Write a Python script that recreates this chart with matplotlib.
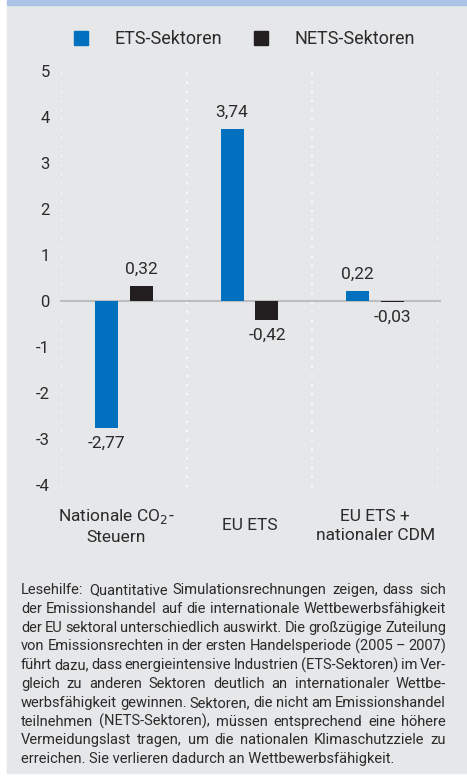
import numpy as np
import matplotlib
matplotlib.use("Agg")
import matplotlib.pyplot as plt
import matplotlib.transforms as mtransforms
from matplotlib.patches import Rectangle

# data
categories = ["Nationale CO$_2$-\nSteuern", "EU ETS", "EU ETS +\nnationaler CDM"]
ets_values = [-2.77, 3.74, 0.22]
nets_values = [0.32, -0.42, -0.03]
series_names = ["ETS-Sektoren", "NETS-Sektoren"]
y_ticks = [5, 4, 3, 2, 1, 0, -1, -2, -3, -4]

caption_lines = [
    "Lesehilfe: Quantitative Simulationsrechnungen zeigen, dass sich",
    "der Emissionshandel auf die internationale Wettbewerbsfähigkeit",
    "der EU sektoral unterschiedlich auswirkt. Die großzügige Zuteilung",
    "von Emissionsrechten in der ersten Handelsperiode (2005 – 2007)",
    "führt dazu, dass energieintensive Industrien (ETS-Sektoren) im Ver-",
    "gleich zu anderen Sektoren deutlich an internationaler Wettbe-",
    "werbsfähigkeit gewinnen. Sektoren, die nicht am Emissionshandel",
    "teilnehmen (NETS-Sektoren), müssen entsprechend eine höhere",
    "Vermeidungslast tragen, um die nationalen Klimaschutzziele zu",
    "erreichen. Sie verlieren dadurch an Wettbewerbsfähigkeit.",
]

BLUE = "#0070bf"
BLACK = "#231f20"
BG = "#e6e7e9"
TXT = "#2b2b2b"

plt.rcParams["font.family"] = ["Roboto", "DejaVu Sans"]

W, H = 467, 780
fig = plt.figure(figsize=(W / 100, H / 100), dpi=100)
fig.patch.set_facecolor("white")

# background panel + top strip
fig.patches.append(Rectangle((7 / W, 1 - 773 / H), 1 - 7 / W, 768 / H, transform=fig.transFigure,
                             color=BG, zorder=-2))
fig.patches.append(Rectangle((7 / W, 1 - 5 / H), 1 - 7 / W, 5 / H, transform=fig.transFigure,
                             color="#abc4e6", zorder=-2))

# axes: x 61..438 px, y 71..485 px (46 px per unit)
ax_l, ax_r = 61, 438
ax_t, ax_b = 71 - 0.05 * 46, 485 + 0.05 * 46
ax = fig.add_axes([ax_l / W, 1 - ax_b / H, (ax_r - ax_l) / W, (ax_b - ax_t) / H])
ax.set_zorder(2)
ax.set_facecolor("none")
ax.set_xlim(-0.5, 2.5)
ax.set_ylim(-4.05, 5.05)

x = np.arange(len(categories))
width = 0.183
offset = 0.139
ax.bar(x - offset, ets_values, width, color=BLUE, zorder=3)
ax.bar(x + offset, nets_values, width, color=BLACK, zorder=3)

for xs, vals in [(x - offset, ets_values), (x + offset, nets_values)]:
    for xi, v in zip(xs, vals):
        dy = 12 if v >= 0 else -11
        ax.annotate(f"{v:.2f}".replace(".", ","), (xi, v), xytext=(0, dy), textcoords="offset points",
                    ha="center", va="center", fontsize=12.5, color=TXT)

# zero line and dotted separators
ax.axhline(0, color="#bcbdbf", lw=1.5, zorder=2, xmax=1.005, clip_on=False)
for xv in [-0.5, 0.5, 1.5, 2.5]:
    ax.axvline(xv, color="white", lw=1.2, ls=(0, (1.2, 4.3)), zorder=1)

for s in ax.spines.values():
    s.set_visible(False)
ax.set_yticks(y_ticks)
ax.set_yticklabels([str(t) for t in y_ticks], fontsize=12, color=TXT)
ax.tick_params(axis="y", length=0, pad=8)
ax.set_xticks([])

# category labels
trans = mtransforms.blended_transform_factory(ax.transData, fig.transFigure)
for xi, lab in zip(x, categories):
    xpos = xi - 0.06 if xi == 0 else xi
    ax.text(xpos, 1 - 526 / H, lab, transform=trans, ha="center", va="center",
            fontsize=12.5, color=TXT, linespacing=1.4)

# legend
fig.patches.append(Rectangle((74 / W, 1 - 45 / H), 14 / W, 14 / H, transform=fig.transFigure,
                             color=BLUE))
fig.text(115 / W, 1 - 39 / H, series_names[0], ha="left", va="center", fontsize=13, color=TXT)
fig.patches.append(Rectangle((254 / W, 1 - 45 / H), 14 / W, 14 / H, transform=fig.transFigure,
                             color=BLACK))
fig.text(295 / W, 1 - 39 / H, series_names[1], ha="left", va="center", fontsize=13, color=TXT)

# caption, justified by hand
fig.canvas.draw()
renderer = fig.canvas.get_renderer()
left_px, right_px = 21, 446
y0, step = 590, 18.8
fs = 10.5
for i, line in enumerate(caption_lines):
    yf = 1 - (y0 + i * step) / H
    if i == len(caption_lines) - 1:
        fig.text(left_px / W, yf, line, ha="left", va="center", fontsize=fs, color=TXT)
        continue
    words = line.split(" ")
    arts = [fig.text(0, yf, w, ha="left", va="center", fontsize=fs, color=TXT) for w in words]
    widths = [a.get_window_extent(renderer).width for a in arts]
    gap = (right_px - left_px - sum(widths)) / max(len(words) - 1, 1)
    xp = left_px
    for a, w in zip(arts, widths):
        a.set_x(xp / W)
        xp += w + gap

fig.savefig("out.png", dpi=100)
